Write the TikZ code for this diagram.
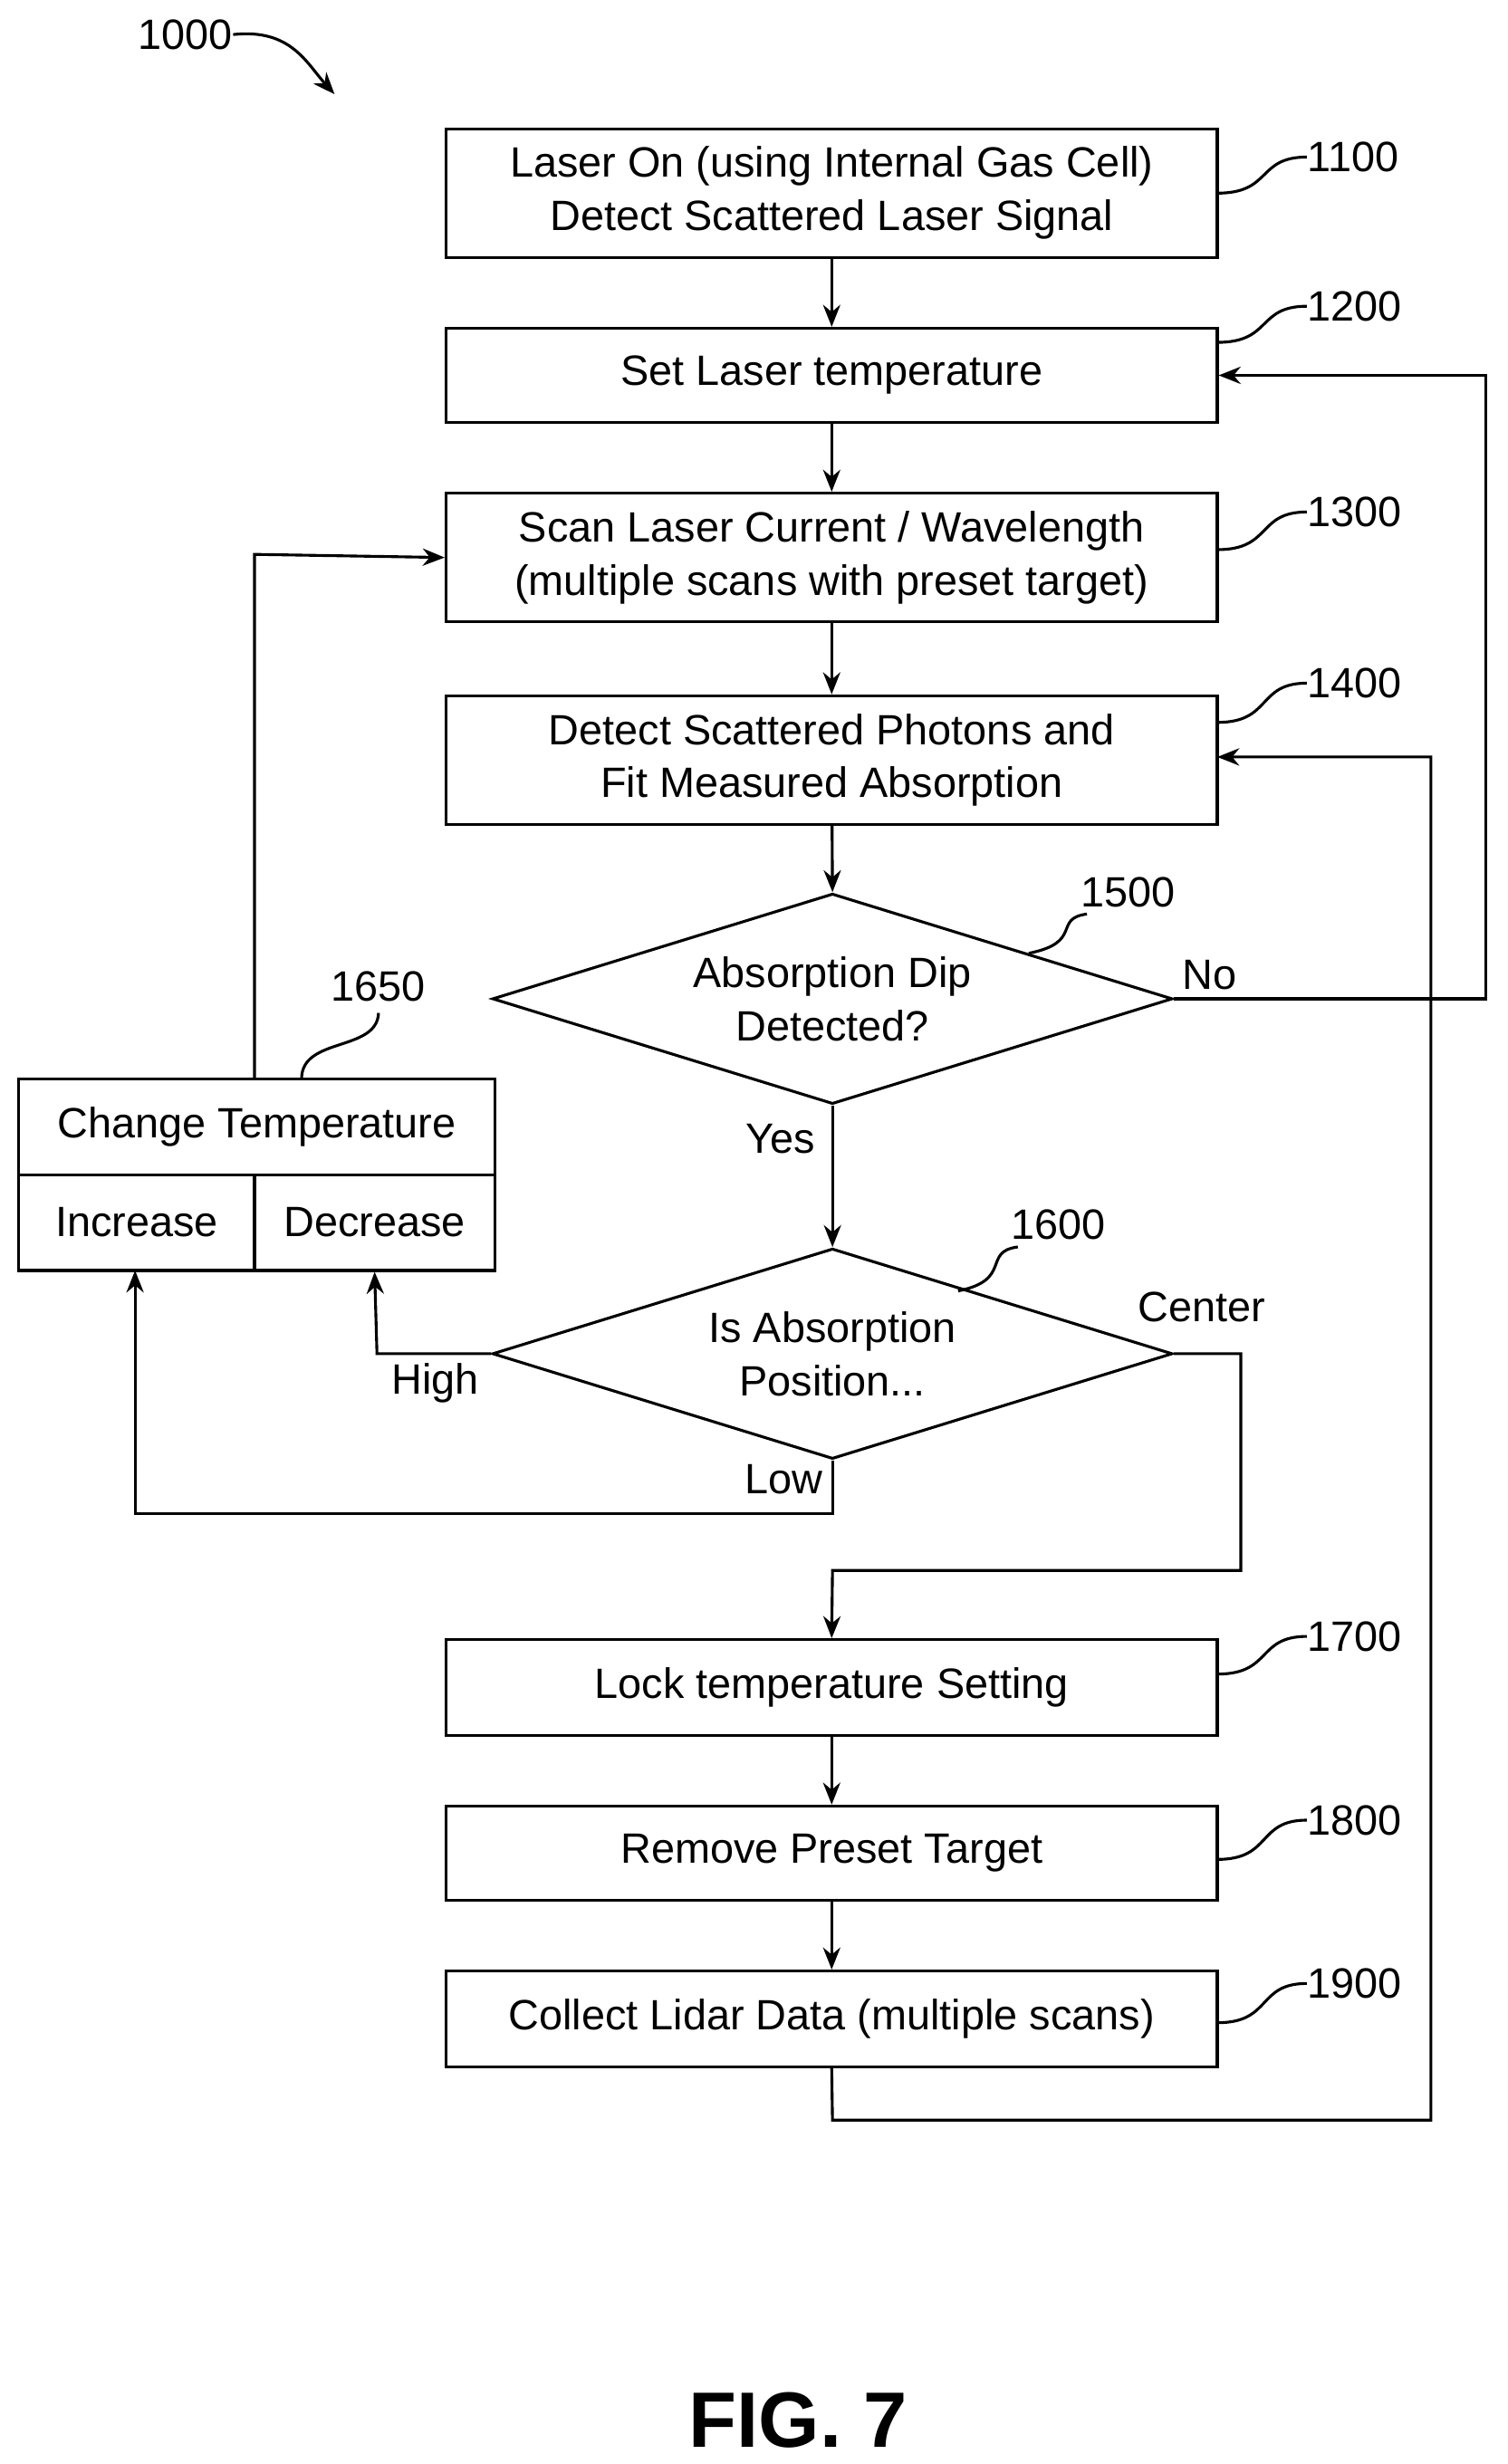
\documentclass[tikz,border=0pt]{standalone}
\usepackage{fontspec}
\setmainfont{Liberation Sans}
\usetikzlibrary{shapes.geometric,arrows.meta}
\begin{document}
\begin{tikzpicture}[x=0.5pt,y=-0.5pt,
  every node/.style={font=\fontsize{13.5}{17}\selectfont},
  box/.style={draw,line width=0.9pt,rectangle,inner sep=0,minimum width=245.5pt,align=center},
  cell/.style={draw,line width=0.9pt,rectangle,inner sep=0,minimum height=30.5pt},
  dia/.style={draw,line width=0.9pt,diamond,inner sep=0,minimum width=216.5pt,minimum height=67pt,aspect=3.23,align=center},
  ln/.style={line width=0.9pt},
  ar/.style={line width=0.9pt,-{Stealth[length=7pt,width=5.5pt]}},
  lbl/.style={inner sep=0}]
\useasboundingbox (0,0) rectangle (960,1569);
\node[box,minimum height=41pt] (b1100) at (529.5,123) {Laser On (using Internal Gas Cell)\\Detect Scattered Laser Signal};
\node[box,minimum height=30pt] (b1200) at (529.5,239) {Set Laser temperature};
\node[box,minimum height=41pt] (b1300) at (529.5,355) {Scan Laser Current / Wavelength\\(multiple scans with preset target)};
\node[box,minimum height=41pt] (b1400) at (529.5,484) {Detect Scattered Photons and\\Fit Measured Absorption};
\node[dia] (d1500) at (530,636) {Absorption Dip\\Detected?};
\node[dia] (d1600) at (530,862) {Is Absorption\\Position...};
\node[cell,minimum width=151.5pt] (ct) at (163.5,717.5) {Change Temperature};
\node[cell,minimum width=75pt] (inc) at (87,778.5) {Increase};
\node[cell,minimum width=76.5pt] (dec) at (238.5,778.5) {Decrease};
\node[box,minimum height=30.5pt] (b1700) at (529.5,1074.5) {Lock temperature Setting};
\node[box,minimum height=30pt] (b1800) at (529.5,1180) {Remove Preset Target};
\node[box,minimum height=30.5pt] (b1900) at (529.5,1285.5) {Collect Lidar Data (multiple scans)};
\node[font=\fontsize{25}{30}\selectfont\bfseries] (fig) at (508,1541) {FIG. 7};
% labels
\node[lbl] (n1000) at (118,22) {1000};
\draw[ar] (n1000.east) .. controls (185,18) and (195,40) .. (213,60);
\foreach \n/\y/\ly in {1100/123/100,1200/218/195,1300/350/326,1400/460/435,1700/1066/1042,1800/1184/1159,1900/1288/1263}{
  \node[lbl,anchor=west] (n\n) at (832,\ly) {\n};
  \draw[ln] (775,\y) .. controls (810,\y) and (800,\ly) .. (n\n.west);
}
\node[lbl] (n1500) at (718,568) {1500};
\draw[ln] (655,607) .. controls (690,600) and (670,585) .. (692,582);
\node[lbl] (n1600) at (674,780) {1600};
\draw[ln] (610,822) .. controls (645,815) and (625,797) .. (648,794);
\node[lbl] (n1650) at (241,628) {1650};
\draw[ln] (192,687) .. controls (192,660) and (240,670) .. (241,645);
% connectors
\draw[ar] (b1100) -- (b1200);
\draw[ar] (b1200) -- (b1300);
\draw[ar] (b1300) -- (b1400);
\draw[ar] (b1400) -- (d1500.north);
\draw[ar] (d1500.east) -- (946,636) -- (946,239) -- (b1200.east);
\node[lbl] (no) at (770,621) {No};
\draw[ar] (d1500.south) -- (d1600.north);
\node[lbl] (yes) at (497,725) {Yes};
\coordinate (c1) at (790,1000);
\draw[ar] (d1600.east) -- (790,862) -- (c1) -- (530,1000) -- (b1700.north);
\node[lbl] (center) at (765,832) {Center};
\draw[ar] (d1600.west) -- (240,862) -- (dec.south);
\node[lbl] (high) at (277,881) {High};
\draw[ar] (d1600.south) -- (530,964) -- (86,964) -- (86,809);
\node[lbl] (low) at (499,942) {Low};
\draw[ar] (162,687) -- (162,353) -- (b1300.west);
\draw[ar] (b1700) -- (b1800);
\draw[ar] (b1800) -- (b1900);
\draw[ar] (b1900.south) -- (530,1350) -- (911,1350) -- (911,482) -- (775,482);
\end{tikzpicture}
\end{document}
